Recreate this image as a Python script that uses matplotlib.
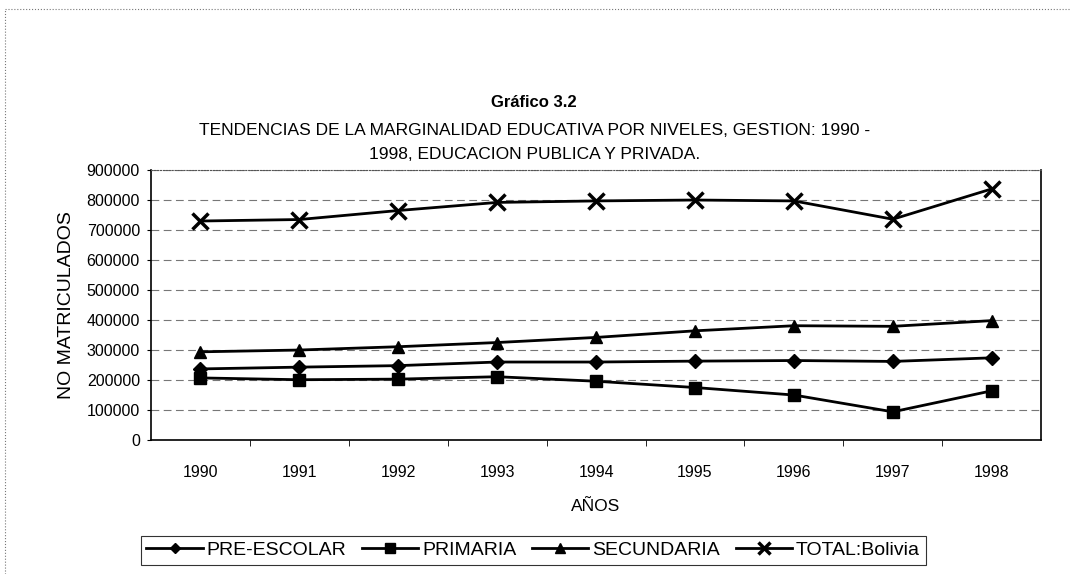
import matplotlib.pyplot as plt
from matplotlib.lines import Line2D

plt.rcParams["font.family"] = ["Liberation Sans", "DejaVu Sans"]

# datos
anios = ["1990", "1991", "1992", "1993", "1994", "1995", "1996", "1997", "1998"]
pre_escolar = [237000, 243000, 248000, 260000, 260000, 263000, 265000, 262000, 274000]
primaria = [207000, 201000, 203000, 211000, 196000, 175000, 150000, 94000, 164000]
secundaria = [294000, 300000, 311000, 325000, 342000, 364000, 381000, 379000, 398000]
total_bolivia = [730000, 735000, 765000, 792000, 797000, 800000, 797000, 736000, 837000]

fig = plt.figure(figsize=(10.75, 5.74), dpi=100)
ax = fig.add_axes([0.1405, 0.2334, 0.828, 0.4704])

x = range(len(anios))
series = [
    (pre_escolar, "PRE-ESCOLAR", "D", 7),
    (primaria, "PRIMARIA", "s", 9),
    (secundaria, "SECUNDARIA", "^", 9),
    (total_bolivia, "TOTAL:Bolivia", "x", 11),
]
for vals, label, mk, ms in series:
    ax.plot(x, vals, color="black", linewidth=2, marker=mk, markersize=ms,
            markeredgewidth=2.5 if mk == "x" else 1, label=label)

ax.set_xlim(-0.5, len(anios) - 0.5)
ax.set_ylim(0, 900000)
ax.set_yticks(range(0, 900001, 100000))
ax.set_yticklabels([str(v) for v in range(0, 900001, 100000)], fontsize=11.5)
ax.set_xticks(list(x))
ax.set_xticklabels(anios, fontsize=11.5)
ax.tick_params(axis="x", which="major", length=0, pad=18)
ax.set_xticks([i - 0.5 for i in range(1, len(anios))], minor=True)
ax.tick_params(axis="x", which="minor", length=4, direction="out")
ax.tick_params(axis="y", length=3, pad=5)

ax.grid(axis="y", color="#777777", linestyle=(0, (7, 4)), linewidth=0.8)
ax.set_axisbelow(True)
ax.spines["top"].set_linestyle(":")
ax.spines["top"].set_color("#555555")
for s in ["left", "right", "bottom"]:
    ax.spines[s].set_linewidth(1.2)

ax.set_xlabel("AÑOS", fontsize=12.5, labelpad=14)
ax.set_ylabel("NO MATRICULADOS", fontsize=14, labelpad=8)

fig.text(0.497, 0.822, "Gráfico 3.2", ha="center", va="center",
         fontsize=12, fontweight="bold")
fig.text(0.497, 0.772,
         "TENDENCIAS DE LA MARGINALIDAD EDUCATIVA POR NIVELES, GESTION: 1990 -",
         ha="center", va="center", fontsize=12.5)
fig.text(0.497, 0.730, "1998, EDUCACION PUBLICA Y PRIVADA.",
         ha="center", va="center", fontsize=12.5)

leg = fig.legend(loc="center", bbox_to_anchor=(0.496, 0.041), ncol=4,
                 fontsize=14, frameon=True, fancybox=False, handlelength=2.9,
                 handletextpad=0.2, columnspacing=0.8, borderpad=0.3,
                 markerscale=0.8)
leg.get_frame().set_edgecolor("black")
leg.get_frame().set_linewidth(0.8)

# bordes punteados del recorte escaneado
fig.lines.append(Line2D([0.005, 0.995], [0.985, 0.985], transform=fig.transFigure,
                        color="#777777", linestyle=":", linewidth=0.8))
fig.lines.append(Line2D([0.005, 0.005], [0.0, 0.985], transform=fig.transFigure,
                        color="#777777", linestyle=":", linewidth=0.8))

fig.savefig("out.png", dpi=100)
